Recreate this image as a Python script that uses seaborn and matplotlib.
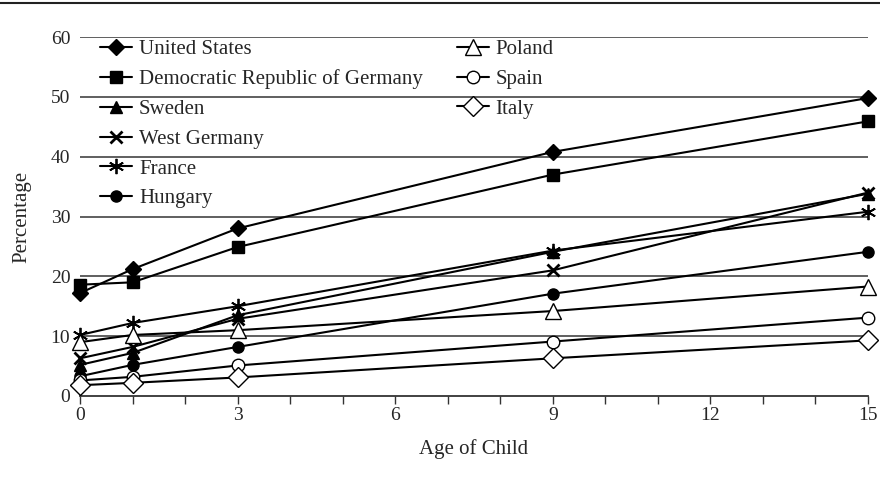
import matplotlib
matplotlib.use("Agg")
import matplotlib.pyplot as plt
import seaborn as sns
import numpy as np
from matplotlib.lines import Line2D

ages = [0, 1, 3, 9, 15]
united_states = [17.2, 21.2, 28.0, 40.8, 49.8]
dem_rep_germany = [18.6, 19.0, 24.9, 37.0, 45.9]
sweden = [5.2, 7.2, 13.5, 24.1, 33.8]
west_germany = [6.3, 8.2, 12.9, 21.0, 34.0]
france = [10.2, 12.2, 15.0, 24.3, 30.8]
hungary = [3.3, 5.2, 8.2, 17.1, 24.1]
poland = [9.0, 10.2, 11.0, 14.2, 18.3]
spain = [2.6, 3.2, 5.1, 9.1, 13.1]
italy = [1.8, 2.2, 3.1, 6.3, 9.3]

names = ["United States", "Democratic Republic of Germany", "Sweden", "West Germany",
         "France", "Hungary", "Poland", "Spain", "Italy"]
series = [united_states, dem_rep_germany, sweden, west_germany, france, hungary,
          poland, spain, italy]
x_ticks = [0, 3, 6, 9, 12, 15]
y_ticks = [0, 10, 20, 30, 40, 50, 60]

styles = [
    dict(marker="D", mfc="black", ms=8),
    dict(marker="s", mfc="black", ms=8),
    dict(marker="^", mfc="black", ms=9),
    dict(marker="x", mfc="black", ms=9, mew=2),
    dict(marker=(6, 2, 0), mfc="black", ms=11, mew=1.3),
    dict(marker="o", mfc="black", ms=8),
    dict(marker="^", mfc="white", ms=11),
    dict(marker="o", mfc="white", ms=9),
    dict(marker="D", mfc="white", ms=10),
]

sns.set_theme(style="white")
plt.rcParams["font.family"] = ["Liberation Serif", "DejaVu Serif"]

fig = plt.figure(figsize=(8.8, 4.91), dpi=100)
ax = fig.add_axes([80 / 880, 1 - 396 / 491, (868 - 80) / 880, (396 - 37) / 491])

for yv in y_ticks[1:]:
    ax.axhline(yv, color="#444444", lw=1.2, zorder=1)

handles = []
for name, vals, st in zip(names, series, styles):
    sns.lineplot(x=ages, y=vals, ax=ax, color="black", lw=1.5,
                 marker=st["marker"], markerfacecolor=st["mfc"],
                 markeredgecolor="black", markersize=st["ms"],
                 markeredgewidth=st.get("mew", 1.0), zorder=3, legend=False,
                 clip_on=False)
    handles.append(Line2D([], [], color="black", lw=1.5, marker=st["marker"],
                          markerfacecolor=st["mfc"], markeredgecolor="black",
                          markersize=st["ms"], markeredgewidth=st.get("mew", 1.0)))

ax.set_xlim(0, 15)
ax.set_ylim(0, 60)
ax.set_xticks(x_ticks)
ax.set_xticks(range(0, 16), minor=True)
ax.set_yticks(y_ticks)
ax.tick_params(axis="x", which="both", direction="out", length=6, width=1,
               color="#333333", bottom=True, labelsize=14, pad=2)
ax.tick_params(axis="y", length=0, labelsize=14, pad=7)
for s in ["top", "right", "left"]:
    ax.spines[s].set_visible(False)
ax.spines["bottom"].set_color("#333333")
ax.spines["bottom"].set_linewidth(1.3)
ax.set_xlabel("Age of Child", fontsize=15, labelpad=11)
ax.set_ylabel("Percentage", fontsize=15, labelpad=14)

fs = 15
common = dict(loc="upper left", frameon=False, fontsize=fs, handlelength=32 / (fs * 100 / 72),
              handletextpad=7 / (fs * 100 / 72), labelspacing=0.49, borderaxespad=0,
              borderpad=0)
leg1 = ax.legend(handles[:6], names[:6], bbox_to_anchor=(0.0254, 0.993), **common)
ax.add_artist(leg1)
ax.legend(handles[6:], names[6:], bbox_to_anchor=(0.478, 0.993), **common)

fig.add_artist(Line2D([0, 1], [1 - 3 / 491, 1 - 3 / 491], transform=fig.transFigure,
                      color="#222222", lw=1.5))

fig.savefig("out.png", dpi=100)
